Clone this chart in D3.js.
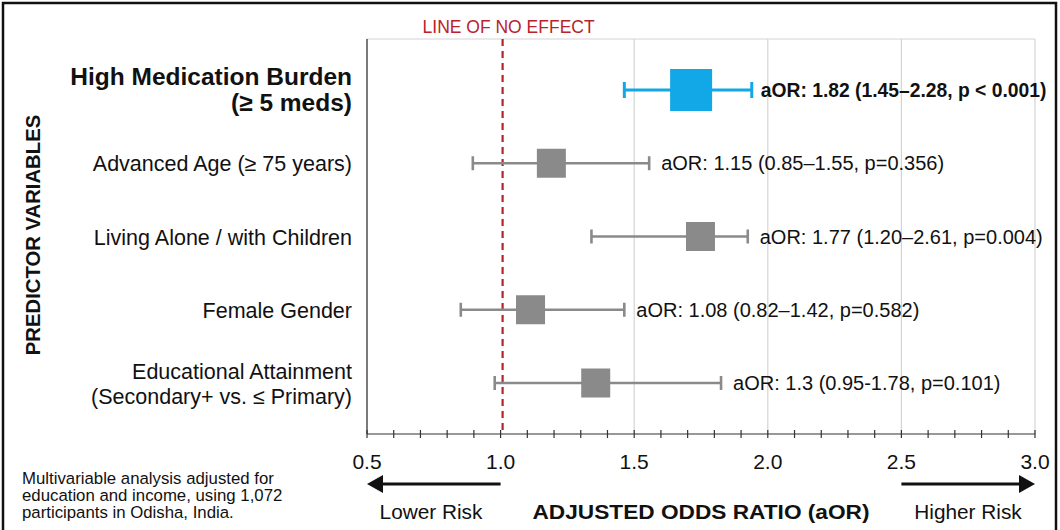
<!DOCTYPE html>
<html><head><meta charset="utf-8">
<script src="https://cdn.jsdelivr.net/npm/d3@7"></script>
<style>body{margin:0;background:#fff}svg{display:block;font-family:"Liberation Sans",Arial,sans-serif}</style>
</head><body><svg id="c" width="1060" height="530"></svg>
<script>
const categories = ["High Medication Burden|(≥ 5 meds)", "Advanced Age (≥ 75 years)", "Living Alone / with Children", "Female Gender", "Educational Attainment|(Secondary+ vs. ≤ Primary)"];
const estimates = [1.713, 1.19, 1.748, 1.112, 1.356];
const lowerCI = [1.463, 0.896, 1.34, 0.851, 0.978];
const upperCI = [1.94, 1.556, 1.925, 1.463, 1.825];
const annotations = ["aOR: 1.82 (1.45–2.28, p < 0.001)", "aOR: 1.15 (0.85–1.55, p=0.356)", "aOR: 1.77 (1.20–2.61, p=0.004)", "aOR: 1.08 (0.82–1.42, p=0.582)", "aOR: 1.3 (0.95-1.78, p=0.101)"];
const highlight = [true, false, false, false, false];
const majorTicks = [0.5, 1.0, 1.5, 2.0, 2.5, 3.0];
const minorTicks = d3.range(5, 31).map(d => d / 10);

const svg = d3.select("#c");
const L = 367, R = 1035, T = 39, B = 434;
const x = d3.scaleLinear().domain([0.5, 3.0]).range([L, R]);
const y = d3.scalePoint().domain(categories).range([90, 383]);
const blue = "#12a7e6", gray = "#8a8a8a", red = "#b8232b";

// outer frame
svg.append("rect").attr("x", 3).attr("y", 3).attr("width", 1053).attr("height", 540)
  .attr("fill", "none").attr("stroke", "#111").attr("stroke-width", 2.5);

// gridlines
svg.append("g").selectAll("line").data(majorTicks.filter(d => d > 1))
  .join("line").attr("x1", d => x(d)).attr("x2", d => x(d)).attr("y1", T).attr("y2", B)
  .attr("stroke", "#d4d4d4").attr("stroke-width", 1.2);
svg.append("line").attr("x1", L).attr("x2", R).attr("y1", T).attr("y2", T).attr("stroke", "#d4d4d4").attr("stroke-width", 1.2);

// left spine
svg.append("line").attr("x1", L).attr("x2", L).attr("y1", T).attr("y2", B).attr("stroke", "#222").attr("stroke-width", 1.2);

// axis
const ax = svg.append("g").attr("transform", `translate(0,${B})`);
ax.append("line").attr("x1", L).attr("x2", R).attr("stroke", "#333").attr("stroke-width", 1.2);
ax.selectAll("line.t").data(minorTicks).join("line").attr("class", "t")
  .attr("x1", d => x(d)).attr("x2", d => x(d)).attr("y1", -4).attr("y2", 4)
  .attr("stroke", "#333").attr("stroke-width", 1.2);
ax.selectAll("text").data(majorTicks).join("text")
  .attr("x", d => x(d)).attr("y", 35).attr("text-anchor", "middle")
  .attr("font-size", 21).attr("fill", "#111").text(d => d.toFixed(1));

// line of no effect
svg.append("line").attr("x1", x(1) + 2).attr("x2", x(1) + 2).attr("y1", T).attr("y2", B)
  .attr("stroke", red).attr("stroke-width", 2.2).attr("stroke-dasharray", "7,5");
svg.append("text").attr("x", x(1) + 8).attr("y", 33).attr("text-anchor", "middle")
  .attr("font-size", 17.5).attr("fill", red).text("LINE OF NO EFFECT");

// rows
const rows = svg.append("g").selectAll("g").data(categories).join("g");
rows.each(function (c, i) {
  const g = d3.select(this);
  const cy = y(c);
  const col = highlight[i] ? blue : gray;
  const sw = highlight[i] ? 3 : 2.6;
  const cap = highlight[i] ? 8 : 7;
  g.append("line").attr("x1", x(lowerCI[i])).attr("x2", x(upperCI[i])).attr("y1", cy).attr("y2", cy)
    .attr("stroke", col).attr("stroke-width", sw);
  [lowerCI[i], upperCI[i]].forEach(v => g.append("line").attr("x1", x(v)).attr("x2", x(v))
    .attr("y1", cy - cap).attr("y2", cy + cap).attr("stroke", col).attr("stroke-width", sw));
  const s = highlight[i] ? 42 : 29;
  g.append("rect").attr("x", x(estimates[i]) - s / 2).attr("y", cy - s / 2).attr("width", s).attr("height", s).attr("fill", col);
  g.append("text").attr("x", x(upperCI[i]) + (highlight[i] ? 9 : 12)).attr("y", cy + 7)
    .attr("font-size", highlight[i] ? 19.3 : 20).attr("font-weight", highlight[i] ? "bold" : "normal").attr("fill", "#111")
    .text(annotations[i]);
  const parts = c.split("|");
  const fs = highlight[i] ? 24.5 : 21.5;
  const lh = highlight[i] ? 26 : 25;
  parts.forEach((p, k) => {
    g.append("text").attr("x", 352).attr("y", cy + 8 + (k - (parts.length - 1) / 2) * lh)
      .attr("text-anchor", "end").attr("font-size", fs).attr("font-weight", highlight[i] ? "bold" : "normal")
      .attr("fill", "#111").text(p);
  });
});

// y title
svg.append("text").attr("transform", "translate(40,235) rotate(-90)").attr("text-anchor", "middle")
  .attr("font-size", 20.3).attr("font-weight", "bold").attr("fill", "#111").text("PREDICTOR VARIABLES");

// arrows
function arrow(x1, x2, yy) {
  const dir = Math.sign(x2 - x1);
  svg.append("line").attr("x1", x1).attr("x2", x2 - dir * 12).attr("y1", yy).attr("y2", yy)
    .attr("stroke", "#111").attr("stroke-width", 3);
  svg.append("path").attr("d", `M${x2},${yy} L${x2 - dir * 16},${yy - 9} L${x2 - dir * 16},${yy + 9} Z`).attr("fill", "#111");
}
arrow(x(1.0), x(0.5), 484);
arrow(x(2.5), x(3.0), 484);
svg.append("text").attr("x", 431).attr("y", 519).attr("text-anchor", "middle").attr("font-size", 20.8).attr("fill", "#111").text("Lower Risk");
svg.append("text").attr("x", 968).attr("y", 519).attr("text-anchor", "middle").attr("font-size", 20.8).attr("fill", "#111").text("Higher Risk");
svg.append("text").attr("x", 701).attr("y", 519).attr("text-anchor", "middle").attr("font-size", 21).attr("font-weight", "bold").attr("fill", "#111")
  .attr("textLength", 337).attr("lengthAdjust", "spacingAndGlyphs").text("ADJUSTED ODDS RATIO (aOR)");

// footnote
const note = ["Multivariable analysis adjusted for", "education and income, using 1,072", "participants in Odisha, India."];
svg.append("g").selectAll("text").data(note).join("text")
  .attr("x", 22).attr("y", (d, i) => 484 + i * 17).attr("font-size", 16.8).attr("fill", "#111").text(d => d);
</script></body></html>
